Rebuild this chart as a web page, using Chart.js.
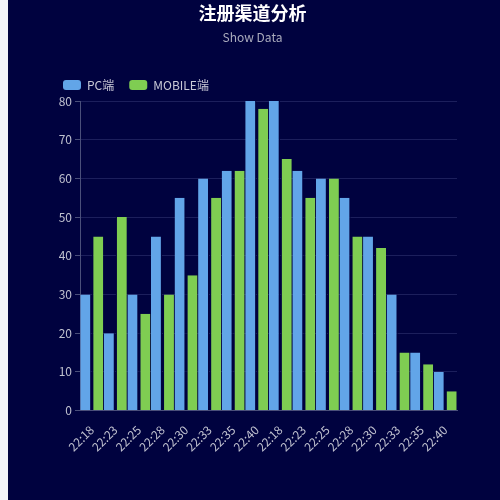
<!DOCTYPE html>
<html>
<head>
<meta charset="utf-8">
<script src="https://cdn.jsdelivr.net/npm/chart.js@4.4.1/dist/chart.umd.min.js"></script>
<style>
    html, body {
        margin: 0;
        padding: 0;
        overflow: hidden;
        background: #f3f4f8;
    }
    #wrap {
        position: absolute;
        left: 8px;
        top: 0;
        width: 500px;
        height: 500px;
        background: #00023f;
    }
</style>
</head>
<body>
<div id="wrap"><canvas id="chart"></canvas></div>
<script>
// Chart data
const categories = ['22:18', '22:23', '22:25', '22:28', '22:30', '22:33', '22:35', '22:40',
                    '22:18', '22:23', '22:25', '22:28', '22:30', '22:33', '22:35', '22:40'];
const pcValues = [30, 20, 30, 45, 55, 60, 62, 80, 80, 62, 60, 55, 45, 30, 15, 10];
const mobileValues = [45, 50, 25, 30, 35, 55, 62, 78, 65, 55, 60, 45, 42, 15, 12, 5];
const yMin = 0;
const yMax = 80;
const yStep = 10;

const navy = '#00023f';
const fontFamily = "'Noto Sans CJK SC', 'Noto Sans', sans-serif";

Chart.defaults.font.family = fontFamily;

const ctx = document.getElementById('chart').getContext('2d');
new Chart(ctx, {
    type: 'bar',
    data: {
        labels: categories,
        datasets: [{
            label: 'PC端',
            data: pcValues,
            backgroundColor: '#62a5e8',
            borderColor: navy,
            // inner edge painted navy to open the gap between the pair
            borderWidth: { top: 0, left: 0, bottom: 0, right: 1.3 },
            barPercentage: 0.95,
            categoryPercentage: 1
        }, {
            label: 'MOBILE端',
            data: mobileValues,
            backgroundColor: '#7fcd52',
            borderColor: navy,
            borderWidth: { top: 0, left: 1.3, bottom: 0, right: 0 },
            barPercentage: 0.95,
            categoryPercentage: 1
        }]
    },
    options: {
        responsive: true,
        maintainAspectRatio: false,
        animation: false,
        layout: {
            padding: { left: 40, right: 51, top: 0, bottom: 42 }
        },
        scales: {
            x: {
                grid: { display: false },
                border: { display: true, color: '#4a4f7a' },
                ticks: {
                    color: '#bfc1cf',
                    font: { size: 12 },
                    minRotation: 45,
                    maxRotation: 45,
                    autoSkip: false,
                    padding: 4
                }
            },
            y: {
                min: yMin,
                max: yMax,
                ticks: {
                    stepSize: yStep,
                    color: '#bfc1cf',
                    font: { size: 12 },
                    padding: 3
                },
                grid: {
                    color: '#1c1f5c',
                    tickColor: '#4a4f7a',
                    tickLength: 5
                },
                border: { display: true, color: '#4a4f7a' },
                afterFit: function(scale) {
                    scale.width = 32;
                }
            }
        },
        plugins: {
            title: {
                display: true,
                text: '注册渠道分析',
                color: '#ffffff',
                font: { size: 18, weight: 'bold' },
                padding: { top: 2, bottom: 4 }
            },
            subtitle: {
                display: true,
                text: 'Show Data',
                color: '#a9abbd',
                font: { size: 12 },
                padding: { top: 3, bottom: 19 }
            },
            legend: {
                position: 'top',
                align: 'start',
                labels: {
                    color: '#c8c9d6',
                    font: { size: 12 },
                    boxWidth: 18,
                    boxHeight: 10,
                    useBorderRadius: true,
                    borderRadius: 3,
                    padding: 15,
                    generateLabels: function(chart) {
                        const items = Chart.defaults.plugins.legend.labels.generateLabels(chart);
                        items.forEach(item => { item.lineWidth = 0; });
                        return items;
                    }
                }
            },
            tooltip: { enabled: false }
        }
    }
});
</script>
</body>
</html>
